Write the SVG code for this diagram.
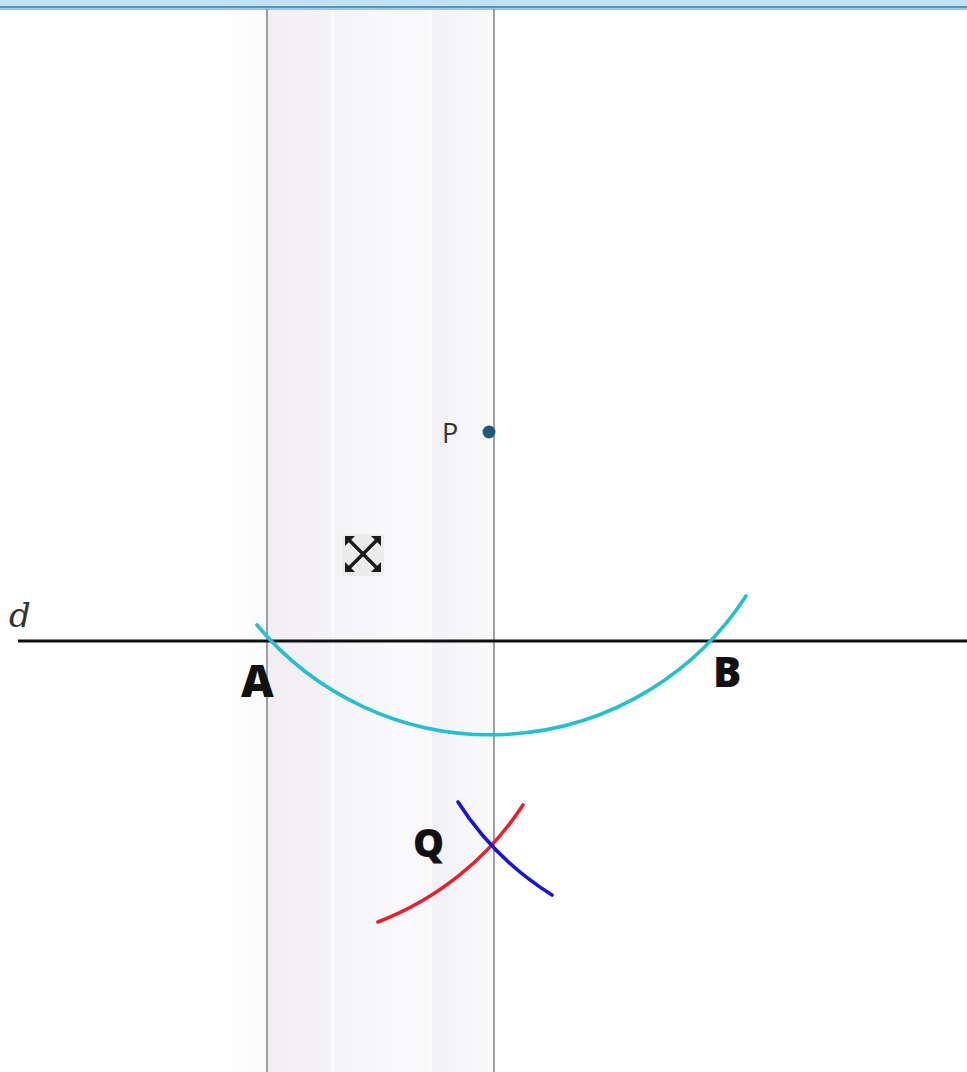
<svg xmlns="http://www.w3.org/2000/svg" width="967" height="1072" viewBox="0 0 967 1072">
<defs>
<linearGradient id="band" x1="0" y1="0" x2="1" y2="0">
<stop offset="0" stop-color="#f1eff3"/>
<stop offset="0.28" stop-color="#f4f2f6"/>
<stop offset="0.29" stop-color="#fefefe"/>
<stop offset="0.30" stop-color="#f4f3f6"/>
<stop offset="0.6" stop-color="#fafafc"/>
<stop offset="0.71" stop-color="#f9f8fa"/>
<stop offset="0.72" stop-color="#fefefe"/>
<stop offset="0.73" stop-color="#f3f1f5"/>
<stop offset="1" stop-color="#fafafb"/>
</linearGradient>
<linearGradient id="leftfade" x1="0" y1="0" x2="1" y2="0">
<stop offset="0" stop-color="#ffffff"/>
<stop offset="1" stop-color="#fbfbfb"/>
</linearGradient>
<style>
.vline{stroke:#8a8a8a;stroke-width:1.6;fill:none}
.label{font-family:"Open Sans","Liberation Sans",sans-serif;font-weight:800;fill:#111}
.arc{fill:none;stroke-width:3.6;stroke-linecap:round}
</style>
</defs>
<rect width="967" height="1072" fill="#ffffff"/>
<rect x="220" y="10" width="47" height="1062" fill="url(#leftfade)"/>
<rect x="267" y="10" width="227" height="1062" fill="url(#band)"/>
<g id="topbar">
<rect x="0" y="0" width="967" height="6" fill="#c3e1f5"/>
<rect x="0" y="6" width="967" height="2.5" fill="#5a93c4"/>
<rect x="0" y="8.5" width="967" height="1.5" fill="#9cc6e6"/>
</g>
<g id="guides">
<line class="vline" x1="267" y1="9" x2="267" y2="1072"/>
<line class="vline" x1="494" y1="9" x2="494" y2="1072"/>
</g>
<g id="line-d">
<line x1="18" y1="641" x2="967" y2="641" stroke="#111" stroke-width="3.2"/>
<text x="9" y="627" font-family="'DejaVu Serif','Liberation Serif',serif" font-style="italic" font-size="34" fill="#333">d</text>
</g>
<g id="connectors">
<path id="arc-cyan" class="arc" stroke="#27bfd0" d="M 257 625 A 304 304 0 0 0 746 596"/>
<path id="arc-red" class="arc" stroke="#e8202c" d="M 378 922 A 302 302 0 0 0 523 805"/>
<path id="arc-blue" class="arc" stroke="#1a12d6" d="M 458 802 A 300 300 0 0 0 552 895"/>
</g>
<g id="node-P">
<circle cx="489" cy="432" r="6.5" fill="#1f5a7c"/>
<text x="442" y="443" font-family="'Open Sans','Liberation Sans',sans-serif" font-size="27" fill="#333">P</text>
</g>
<g id="node-A">
<text class="label" x="241" y="697" font-size="45">A</text>
</g>
<g id="node-B">
<text class="label" x="713" y="687" font-size="42">B</text>
</g>
<g id="node-Q">
<text class="label" x="413" y="857" font-size="39" fill="#2a2a2a">Q</text>
</g>
<g id="move-icon">
<rect x="342" y="534" width="42" height="42" fill="#ececec" rx="3"/>
<g stroke="#1a1a1a" stroke-width="3.4" stroke-linecap="square">
<line x1="350" y1="541" x2="376" y2="567"/>
<line x1="376" y1="541" x2="350" y2="567"/>
</g>
<g fill="#1a1a1a">
<polygon points="345,536 355,536 345,546"/>
<polygon points="381,536 371,536 381,546"/>
<polygon points="345,572 355,572 345,562"/>
<polygon points="381,572 371,572 381,562"/>
</g>
</g>
</svg>
